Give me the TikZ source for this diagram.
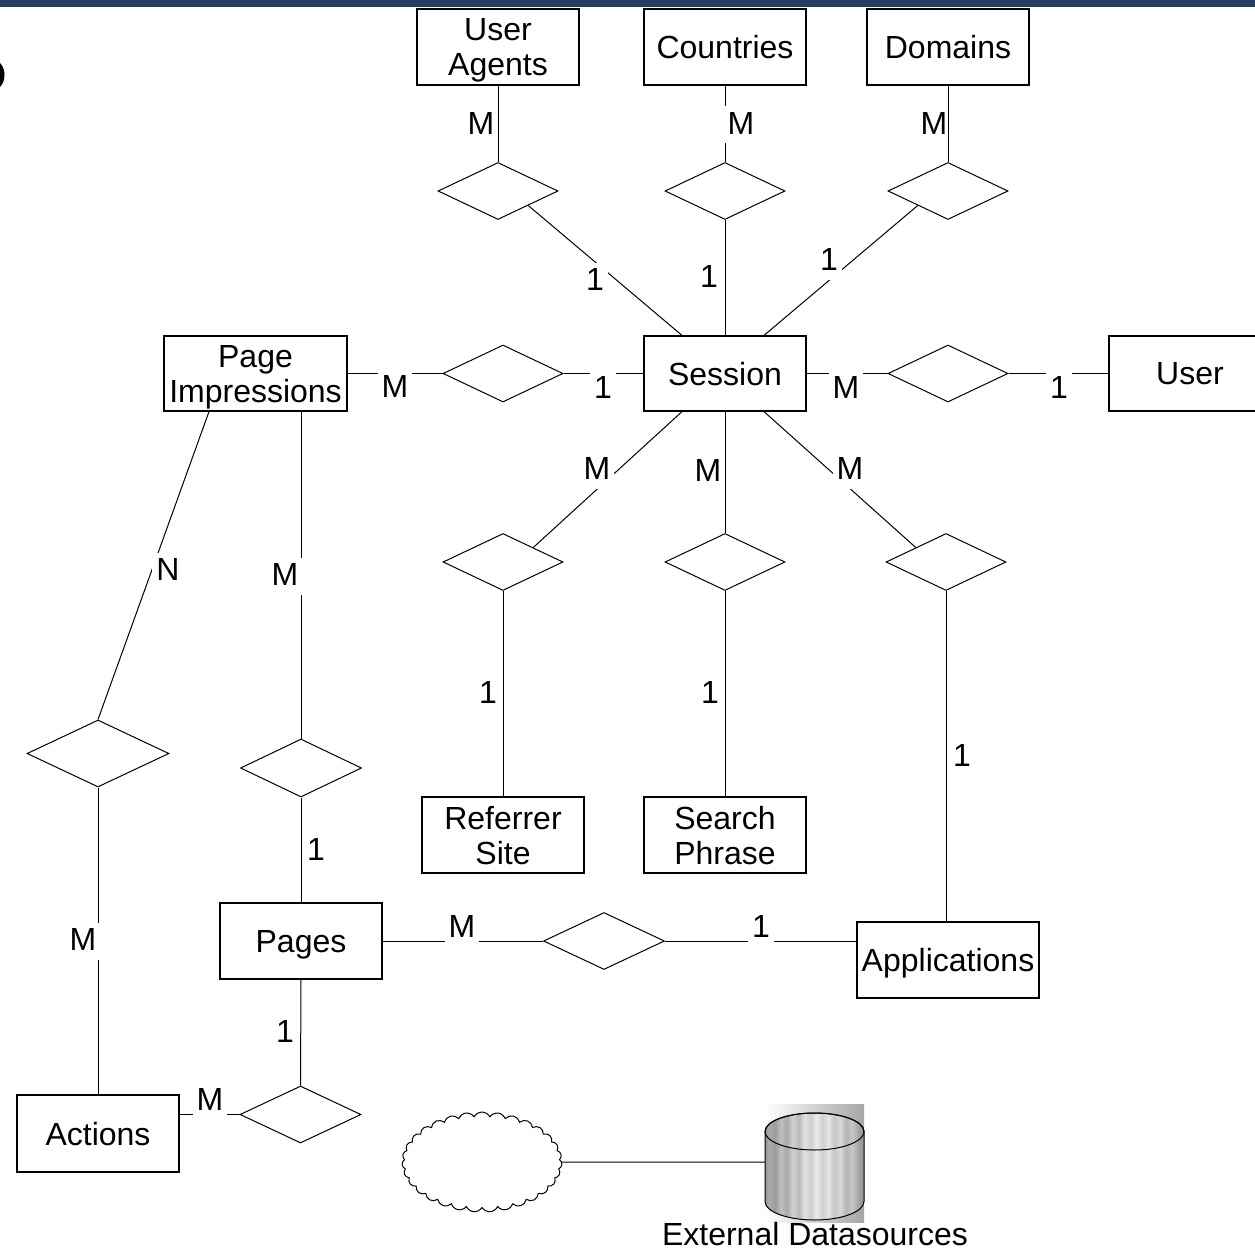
\documentclass[tikz,border=0pt]{standalone}
\usepackage{fontspec}
\setmainfont{Liberation Sans}
\usetikzlibrary{shapes.geometric,shapes.symbols}
\definecolor{topbar}{RGB}{37,61,96}
\pgfdeclarehorizontalshading{dbstripes}{100bp}{color(0bp)=(gray!85); color(25bp)=(gray!85); color(27bp)=(gray!65); color(30bp)=(gray!78); color(33bp)=(gray!50); color(36bp)=(gray!68); color(39bp)=(gray!35); color(42bp)=(gray!55); color(45bp)=(gray!22); color(48bp)=(gray!40); color(51bp)=(gray!15); color(54bp)=(gray!38); color(57bp)=(gray!20); color(60bp)=(gray!45); color(63bp)=(gray!30); color(66bp)=(gray!58); color(69bp)=(gray!45); color(72bp)=(gray!70); color(75bp)=(gray!88); color(100bp)=(gray!88)}
\begin{document}
\begin{tikzpicture}[x=1pt,y=-1pt,
  dfont/.style={font=\fontsize{32pt}{35pt}\selectfont},
  entity/.style={draw, line width=1.2pt, rectangle, minimum width=162pt, minimum height=76pt, inner sep=0pt, align=center, text depth=0pt, dfont},
  rel/.style={draw, line width=1pt, diamond, minimum width=120pt, minimum height=57pt, inner sep=0pt},
  lbl/.style={fill=white, inner xsep=4pt, inner ysep=4pt, text height=24pt, text depth=5pt, anchor=base, dfont},
  lbltxt/.style={lbl, fill=none},
  conn/.style={line width=1pt}
]
\path[use as bounding box, clip] (0,0) rectangle (1255,1252);
\fill[topbar] (0,0) rectangle (1255,7);
\fill (0,63) .. controls (6,69) and (6,81) .. (0,87) -- cycle;

% entities
\node[entity] (ua) at (498,47) {User\\Agents};
\node[entity] (co) at (725,47) {Countries};
\node[entity] (dom) at (948,47) {Domains};
\node[entity, minimum width=183pt, minimum height=75pt] (pi) at (255.5,373.5) {Page\\Impressions};
\node[entity, minimum height=75pt] (ses) at (725,373.5) {Session};
\node[entity, minimum height=75pt] (usr) at (1190,373.5) {User};
\node[entity] (ref) at (503,835) {Referrer\\Site};
\node[entity] (sp) at (725,835) {Search\\Phrase};
\node[entity] (pg) at (301,941) {Pages};
\node[entity, minimum width=182pt] (app) at (948,960) {Applications};
\node[entity, minimum height=77pt] (act) at (98,1133.5) {Actions};

% relationships
\node[rel] (uad) at (498,191) {};
\node[rel] (cod) at (725,191) {};
\node[rel] (domd) at (948,191) {};
\node[rel] (pisd) at (503,373.5) {};
\node[rel] (sud) at (948,373.5) {};
\node[rel] (refd) at (503,562) {};
\node[rel] (spd) at (725,562) {};
\node[rel] (appd) at (946,562) {};
\node[rel, minimum width=142pt, minimum height=67pt] (actd) at (98,753.5) {};
\node[rel, minimum width=121pt, minimum height=58pt] (pd) at (301,768) {};
\node[rel, minimum width=121pt] (ppd) at (604,941) {};
\node[rel, minimum width=121pt] (pad) at (300.5,1114.5) {};

% connectors
\draw[conn] (ua.south) -- (uad.north);
\draw[conn] (co.south) -- (cod.north);
\draw[conn] (dom.south) -- (domd.north);
\draw[conn] (uad.south east) -- ([xshift=-43pt]ses.north);
\draw[conn] (cod.south) -- (ses.north);
\draw[conn] (domd.south west) -- ([xshift=39pt]ses.north);
\draw[conn] (pi.east) -- (pisd.west);
\draw[conn] (pisd.east) -- (ses.west);
\draw[conn] (ses.east) -- (sud.west);
\draw[conn] (sud.east) -- (usr.west);
\draw[conn] ([xshift=-43pt]ses.south) -- (refd.north east);
\draw[conn] (ses.south) -- (spd.north);
\draw[conn] ([xshift=39pt]ses.south) -- (appd.north west);
\draw[conn] (refd.south) -- (ref.north);
\draw[conn] (spd.south) -- (sp.north);
\draw[conn] (appd.south) -- (appd.south |- app.north);
\draw[conn] ([xshift=-46.5pt]pi.south) -- (actd.north);
\draw[conn] (pd.north |- pi.south) -- (pd.north);
\draw[conn] (pd.south) -- (pg.north);
\draw[conn] (pg.east) -- (ppd.west);
\draw[conn] (ppd.east) -- (ppd.east -| app.west);
\draw[conn] (actd.south) -- (act.north);
\draw[conn] (pg.south) -- (pad.north);
\draw[conn] (pad.west -| act.east) -- (pad.west);

% labels
\node[lbltxt] (l1) at (481,134.5) {M};
\node[lbl] (l2) at (741,134.5) {M};
\node[lbltxt] (l3) at (934,134.5) {M};
\node[lbl] (l4) at (595,290.5) {1};
\node[lbl] (l5) at (709,287.5) {1};
\node[lbl] (l6) at (829,270.5) {1};
\node[lbl] (l7) at (395,397.5) {M};
\node[lbl] (l8) at (603,398.5) {1};
\node[lbl] (l9) at (846,398.5) {M};
\node[lbl] (l10) at (1059,398.5) {1};
\node[lbl] (l11) at (597,479.5) {M};
\node[lbl] (l12) at (708,481.5) {M};
\node[lbl] (l13) at (850,479.5) {M};
\node[lbl] (l14) at (488,703.5) {1};
\node[lbl] (l15) at (710,703.5) {1};
\node[lbl] (l16) at (962,766.5) {1};
\node[lbl] (l17) at (168,580.5) {N};
\node[lbl] (l18) at (285,585.5) {M};
\node[lbl] (l19) at (316,860.5) {1};
\node[lbl] (l20) at (462,937.5) {M};
\node[lbl] (l21) at (761,937.5) {1};
\node[lbl] (l22) at (83,950.5) {M};
\node[lbl] (l23) at (285,1042.5) {1};
\node[lbl] (l24) at (210,1110.5) {M};

% cloud and datasource
\node[cloud, draw, line width=1pt, cloud puffs=31, cloud puff arc=125, cloud ignores aspect, minimum width=160pt, minimum height=100pt, inner sep=0pt] (cld) at (482,1162) {};
\shade[left color=white, right color=gray!70] (765,1104) rectangle (864,1222);
\shade[shading=dbstripes, draw=black, line width=1pt] (765,1131.5) -- (765,1201.5) arc[start angle=180, end angle=360, x radius=49.5pt, y radius=18.5pt] -- (864,1131.5) arc[start angle=0, end angle=180, x radius=49.5pt, y radius=18.5pt] -- cycle;
\draw[line width=1pt] (814.5,1131.5) ellipse [x radius=49.5pt, y radius=18.5pt];
\coordinate (dbw) at (765,1162);
\draw[conn] (cld.east) -- (dbw);
\node[dfont, text depth=0pt, inner sep=0pt] (dbl) at (815,1234) {External Datasources};
\end{tikzpicture}
\end{document}
